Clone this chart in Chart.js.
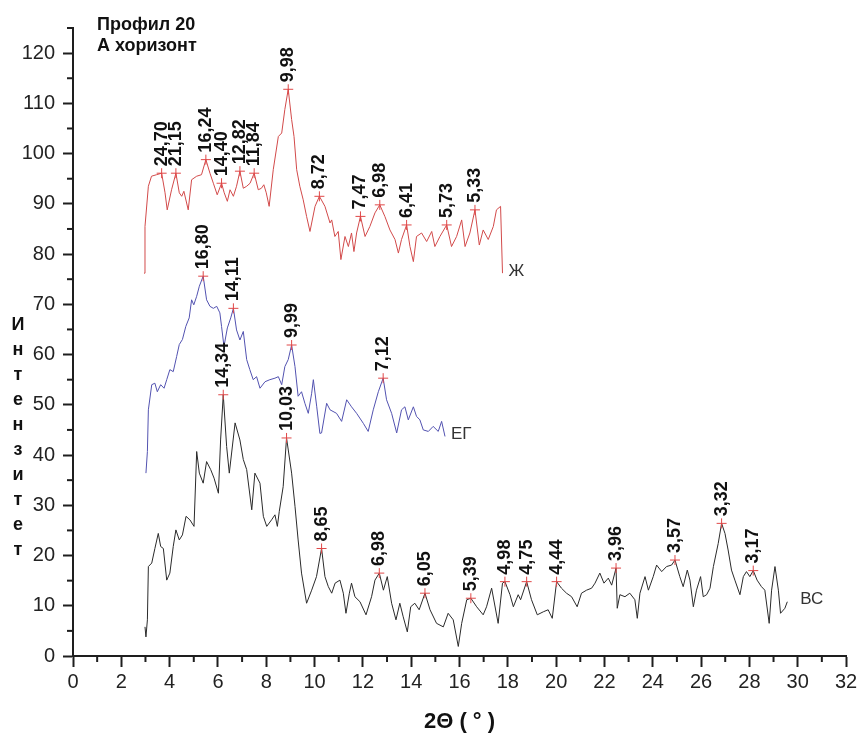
<!DOCTYPE html>
<html>
<head>
<meta charset="utf-8">
<script src="https://cdn.jsdelivr.net/npm/chart.js@4.4.0/dist/chart.umd.min.js"></script>
<style>
  html, body { margin: 0; padding: 0; background: #fff; }
  #wrap { width: 862px; height: 740px; }
</style>
</head>
<body>
<div id="wrap"><canvas id="xrd" width="862" height="740"></canvas></div>
<script>
// diffractogram scans: [2theta, intensity]
const scanZh = [[2.94,76.2],[2.98,85.5],[3.12,93.5],[3.25,95.5],[3.46,95.8],[3.67,96.1],[3.81,92.2],[3.9,88.8],[4.08,92.8],[4.26,96.1],[4.4,92.2],[4.5,91.5],[4.59,92.5],[4.77,88.8],[4.91,94.8],[5.12,95.5],[5.32,95.8],[5.5,98.8],[5.67,96.1],[5.81,94.1],[5.97,91.8],[6.15,94.1],[6.26,92.2],[6.39,90.5],[6.5,92.8],[6.64,91.5],[6.77,93.5],[6.91,96.5],[7.05,93.1],[7.19,93.5],[7.33,94.1],[7.5,96.1],[7.67,92.8],[7.8,93.1],[7.9,93.8],[8.0,92.2],[8.12,89.5],[8.29,96.8],[8.5,103.4],[8.64,104.1],[8.77,108.8],[8.91,112.8],[9.05,106.8],[9.15,103.4],[9.26,96.8],[9.39,93.5],[9.53,90.8],[9.67,87.5],[9.81,84.5],[10.02,89.5],[10.2,91.5],[10.43,89.5],[10.64,86.2],[10.71,86.8],[10.84,83.5],[10.98,84.5],[11.09,78.9],[11.26,83.5],[11.4,81.5],[11.53,84.2],[11.63,80.5],[11.74,84.2],[11.9,87.5],[12.09,83.5],[12.29,85.5],[12.5,88.2],[12.7,89.8],[12.91,87.5],[13.12,84.8],[13.33,82.9],[13.47,80.2],[13.6,82.9],[13.81,85.8],[13.95,81.5],[14.09,78.5],[14.22,83.5],[14.43,84.2],[14.64,82.5],[14.85,84.5],[14.98,81.5],[15.19,83.5],[15.47,85.8],[15.67,81.5],[15.88,83.5],[16.09,86.8],[16.23,81.5],[16.43,84.2],[16.64,88.8],[16.82,81.8],[16.98,84.8],[17.19,82.9],[17.4,85.5],[17.53,88.8],[17.7,89.5],[17.78,76.2]];

const scanEG = [[3.02,36.4],[3.08,40.7],[3.12,49.0],[3.26,54.0],[3.39,54.3],[3.49,52.6],[3.63,54.0],[3.77,53.3],[3.88,55.0],[4.01,57.0],[4.15,56.6],[4.29,59.6],[4.4,62.0],[4.53,63.0],[4.67,65.6],[4.81,67.3],[4.91,70.9],[5.0,69.9],[5.12,71.6],[5.23,73.6],[5.39,75.6],[5.53,70.9],[5.67,69.6],[5.81,69.2],[5.95,69.6],[6.08,68.3],[6.15,65.6],[6.25,61.6],[6.39,65.3],[6.53,67.3],[6.64,69.2],[6.77,64.9],[6.91,62.9],[7.05,64.6],[7.19,59.0],[7.32,57.0],[7.46,55.0],[7.6,55.6],[7.74,53.3],[7.95,54.6],[8.15,55.0],[8.36,55.3],[8.5,55.6],[8.64,54.0],[8.77,57.6],[8.91,59.0],[9.05,61.9],[9.19,57.6],[9.32,51.7],[9.46,52.6],[9.6,50.3],[9.74,48.3],[9.88,52.3],[9.95,55.0],[10.09,49.6],[10.22,44.3],[10.29,44.4],[10.5,50.3],[10.64,49.0],[10.91,48.3],[11.12,46.7],[11.33,51.0],[11.53,49.6],[11.74,48.3],[12.02,46.3],[12.22,44.7],[12.43,49.0],[12.64,52.6],[12.84,55.3],[12.98,51.0],[13.19,48.3],[13.4,44.4],[13.6,49.0],[13.74,49.6],[13.88,47.0],[14.09,49.6],[14.22,47.7],[14.36,47.0],[14.5,45.0],[14.71,44.7],[14.91,45.7],[15.12,44.7],[15.26,46.7],[15.4,43.7]];

const scanVS = [[2.98,5.8],[3.02,3.8],[3.08,7.2],[3.12,17.8],[3.26,18.5],[3.39,21.4],[3.53,24.4],[3.63,21.8],[3.74,21.4],[3.88,15.1],[4.01,16.5],[4.15,21.8],[4.26,25.1],[4.4,23.1],[4.53,24.1],[4.68,27.8],[4.84,27.1],[5.01,25.8],[5.12,40.7],[5.23,36.4],[5.39,34.4],[5.53,38.7],[5.7,37.1],[5.84,35.4],[6.02,32.4],[6.11,43.0],[6.22,52.0],[6.36,41.7],[6.47,36.4],[6.71,46.4],[6.91,43.0],[7.05,39.1],[7.19,37.1],[7.4,29.1],[7.53,36.4],[7.74,34.4],[7.88,27.8],[8.02,25.8],[8.22,27.1],[8.36,28.1],[8.46,25.8],[8.54,28.8],[8.7,33.7],[8.84,43.4],[9.05,36.4],[9.19,29.8],[9.32,23.1],[9.46,16.5],[9.67,10.5],[9.88,13.1],[10.08,15.8],[10.29,21.4],[10.43,15.8],[10.57,13.8],[10.71,12.5],[10.85,14.5],[11.05,15.1],[11.19,12.5],[11.3,8.5],[11.44,12.5],[11.53,14.5],[11.67,11.8],[11.88,10.8],[12.13,8.2],[12.36,11.8],[12.5,15.1],[12.68,16.5],[12.85,13.1],[13.01,15.8],[13.19,10.5],[13.37,7.2],[13.53,10.5],[13.67,7.8],[13.84,4.8],[13.98,9.8],[14.15,10.5],[14.33,9.2],[14.57,12.5],[14.78,9.2],[15.05,6.5],[15.33,5.8],[15.53,8.5],[15.74,7.2],[15.95,1.9],[16.09,6.5],[16.3,11.2],[16.47,11.5],[16.71,9.8],[16.98,8.2],[17.12,9.8],[17.33,13.5],[17.6,6.5],[17.78,14.5],[17.88,14.8],[18.09,12.2],[18.23,9.8],[18.43,12.2],[18.53,11.2],[18.78,14.8],[18.98,11.2],[19.22,8.2],[19.47,8.8],[19.67,9.2],[19.84,7.5],[20.02,14.8],[20.22,13.5],[20.43,12.5],[20.64,11.8],[20.87,9.8],[21.05,12.5],[21.26,13.1],[21.47,13.5],[21.61,14.5],[21.81,16.5],[21.98,14.5],[22.16,15.5],[22.3,14.1],[22.48,17.5],[22.53,9.5],[22.64,12.2],[22.85,11.8],[23.05,12.5],[23.26,11.2],[23.36,7.5],[23.47,12.5],[23.68,15.8],[23.82,13.1],[24.02,15.8],[24.16,18.1],[24.37,16.8],[24.57,17.8],[24.78,18.1],[24.92,19.1],[25.12,15.8],[25.26,13.8],[25.43,17.1],[25.54,15.1],[25.68,9.8],[25.81,13.1],[25.98,15.8],[26.09,11.8],[26.23,12.2],[26.37,13.5],[26.51,17.8],[26.71,22.4],[26.85,26.4],[26.99,24.4],[27.12,21.1],[27.26,17.1],[27.4,15.1],[27.61,12.2],[27.75,15.8],[27.88,16.8],[28.02,15.8],[28.16,17.0],[28.32,15.1],[28.5,13.8],[28.64,13.1],[28.82,6.5],[28.92,13.1],[29.06,17.8],[29.2,13.1],[29.29,8.5],[29.47,9.5],[29.57,10.8]];

// marked reflections: position, intensity, d-spacing (Å)
const peaksZhTheta = [3.67, 4.26, 5.5, 6.15, 6.91, 7.5, 8.91, 10.2, 11.9, 12.7, 13.81, 15.47, 16.64];
const peaksZhCounts = [96.1, 96.1, 98.8, 94.1, 96.5, 96.1, 112.8, 91.5, 87.5, 89.8, 85.8, 85.8, 88.8];
const peaksZhD = ['24,70', '21,15', '16,24', '14,40', '12,82', '11,84', '9,98', '8,72', '7,47', '6,98', '6,41', '5,73', '5,33'];

const peaksEGTheta = [5.39, 6.64, 9.05, 12.84];
const peaksEGCounts = [75.6, 69.2, 61.9, 55.3];
const peaksEGD = ['16,80', '14,11', '9,99', '7,12'];

const peaksVSTheta = [6.22, 8.84, 10.29, 12.68, 14.57, 16.47, 17.88, 18.78, 20.02, 22.48, 24.92, 26.85, 28.16];
const peaksVSCounts = [52.0, 43.4, 21.4, 16.5, 12.5, 11.5, 14.8, 14.8, 14.8, 17.5, 19.1, 26.4, 17.0];
const peaksVSD = ['14,34', '10,03', '8,65', '6,98', '6,05', '5,39', '4,98', '4,75', '4,44', '3,96', '3,57', '3,32', '3,17'];

const sampleNames = ['Ж', 'ЕГ', 'ВС'];
const xTicks = [0, 32, 2];
const yTicks = [0, 125, 10];

const FONT = "'Liberation Sans', Arial, sans-serif";
const AXIS = '#1e1e1e';

function toPoints(scan) {
  return scan.map(p => ({ x: p[0], y: p[1] }));
}
function peakPoints(th, cnt) {
  return th.map((t, i) => ({ x: t, y: cnt[i] }));
}

function lineSet(scan, color) {
  return {
    type: 'line', data: toPoints(scan), borderColor: color, borderWidth: 1,
    pointRadius: 0, tension: 0, fill: false, order: 2
  };
}
function peakSet(th, cnt, labels) {
  return {
    type: 'scatter', data: peakPoints(th, cnt), labels: labels,
    pointStyle: 'cross', pointRadius: 5, borderColor: '#e04848',
    backgroundColor: '#e04848', borderWidth: 1, order: 1
  };
}

// minor ticks, peak d-spacings, sample names and the free text
const decor = {
  id: 'decor',
  afterDatasetsDraw(chart) {
    const ctx = chart.ctx;
    const xs = chart.scales.x, ys = chart.scales.y;
    const area = chart.chartArea;
    ctx.save();

    ctx.strokeStyle = AXIS;
    ctx.lineWidth = 2;
    for (let v = 1; v < xTicks[1]; v += 2) {
      const px = xs.getPixelForValue(v);
      ctx.beginPath(); ctx.moveTo(px, area.bottom); ctx.lineTo(px, area.bottom + 6); ctx.stroke();
    }
    for (let v = 5; v <= yTicks[1]; v += 10) {
      const py = ys.getPixelForValue(v);
      ctx.beginPath(); ctx.moveTo(area.left - 6, py); ctx.lineTo(area.left, py); ctx.stroke();
    }

    // d-spacing labels standing on the markers
    ctx.fillStyle = '#111';
    ctx.font = 'bold 18px ' + FONT;
    ctx.textAlign = 'left';
    ctx.textBaseline = 'middle';
    chart.data.datasets.forEach((ds, i) => {
      if (!ds.labels) return;
      chart.getDatasetMeta(i).data.forEach((pt, j) => {
        ctx.save();
        ctx.translate(pt.x, pt.y - 7);
        ctx.rotate(-Math.PI / 2);
        ctx.fillText(ds.labels[j], 0, 0);
        ctx.restore();
      });
    });

    // sample names at the end of each scan
    const scans = [scanZh, scanEG, scanVS];
    const gaps = [6, 6, 13];
    ctx.font = '17px ' + FONT;
    ctx.fillStyle = '#333';
    scans.forEach((s, i) => {
      const last = s[s.length - 1];
      ctx.fillText(sampleNames[i], xs.getPixelForValue(last[0]) + gaps[i], ys.getPixelForValue(last[1]) - 2);
    });

    // heading
    ctx.fillStyle = '#111';
    ctx.font = 'bold 18px ' + FONT;
    ctx.fillText('Профил 20', 97, 25);
    ctx.fillText('А хоризонт', 97, 46);

    // y title, one letter per row
    const letters = ['И', 'н', 'т', 'е', 'н', 'з', 'и', 'т', 'е', 'т'];
    ctx.font = 'bold 18px ' + FONT;
    ctx.textAlign = 'center';
    letters.forEach((ch, i) => ctx.fillText(ch, 18, 325 + i * 25));

    ctx.restore();
  }
};

new Chart(document.getElementById('xrd'), {
  data: {
    datasets: [
      peakSet(peaksZhTheta, peaksZhCounts, peaksZhD),
      peakSet(peaksEGTheta, peaksEGCounts, peaksEGD),
      peakSet(peaksVSTheta, peaksVSCounts, peaksVSD),
      lineSet(scanZh, '#d24a4a'),
      lineSet(scanEG, '#5252b0'),
      lineSet(scanVS, '#2a2a2a')
    ]
  },
  options: {
    responsive: false,
    animation: false,
    layout: { padding: { top: 28, right: 16, left: 0, bottom: 0 } },
    plugins: { legend: { display: false }, tooltip: { enabled: false } },
    scales: {
      x: {
        type: 'linear', min: xTicks[0], max: xTicks[1],
        afterFit(scale) { scale.height = 84; },
        ticks: { stepSize: xTicks[2], color: '#222', padding: 3, font: { family: FONT, size: 20 } },
        grid: { drawOnChartArea: false, drawTicks: true, tickLength: 11, tickColor: AXIS, tickWidth: 2 },
        border: { display: true, color: AXIS, width: 2 },
        title: {
          display: true, text: '2Θ ( ° )', color: '#111',
          font: { family: FONT, size: 22, weight: 'bold' }, padding: { top: 0, bottom: 5 }
        }
      },
      y: {
        type: 'linear', min: yTicks[0], max: yTicks[1],
        afterFit(scale) { scale.width = 73; },
        ticks: { stepSize: yTicks[2], includeBounds: false, color: '#222', padding: 8, font: { family: FONT, size: 20 } },
        grid: { drawOnChartArea: false, drawTicks: true, tickLength: 10, tickColor: AXIS, tickWidth: 2 },
        border: { display: true, color: AXIS, width: 2 }
      }
    }
  },
  plugins: [decor]
});
</script>
</body>
</html>
